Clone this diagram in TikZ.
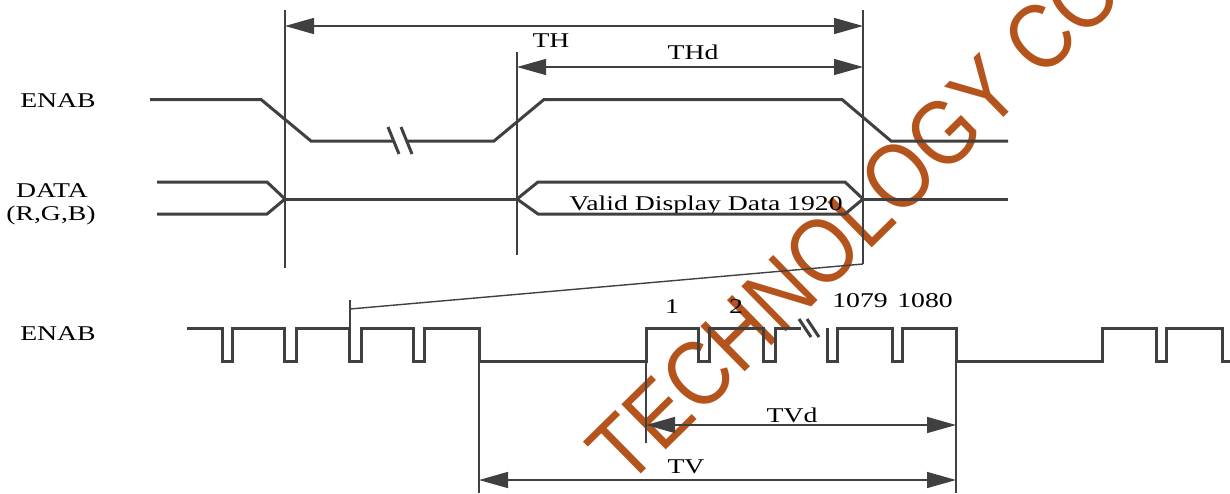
\documentclass[tikz,border=0pt]{standalone}
\usepackage{fontspec}
\usepackage{graphicx}
\setmainfont{Liberation Serif}
\newfontfamily\wmfont{Liberation Sans}
\usetikzlibrary{arrows.meta}
\definecolor{ln}{HTML}{404040}
\definecolor{wm}{HTML}{B4541C}
\newcommand{\sx}[1]{\scalebox{1.32}[1]{#1}}
\begin{document}
\begin{tikzpicture}[x=1pt,y=-1pt,
  sig/.style={draw=ln, line width=3pt, line join=miter},
  brk/.style={draw=ln, line width=3pt},
  dimline/.style={draw=ln, line width=1.4pt},
  dimarr/.style={draw=ln, line width=1.4pt,
    {Triangle[length=29pt,width=16pt]}-{Triangle[length=29pt,width=16pt]}},
  lab/.style={font=\fontsize{21}{24}\selectfont, text=black, inner sep=0pt, anchor=base},
  wmark/.style={font=\wmfont\fontsize{92}{96}\selectfont, text=wm, inner sep=0pt,
    anchor=base west, rotate=44.5}
]
\useasboundingbox (0,0) rectangle (1230,493);

% ---------- watermark ----------
\node[wmark] (wm) at (626,489) {\scalebox{0.87}[1]{TECHNOLOGY CO}};

% ---------- named coordinates ----------
\coordinate (v1t) at (285,10);   \coordinate (v1b) at (285,268);
\coordinate (v2t) at (863,10);   \coordinate (v2b) at (863,264);
\coordinate (v3t) at (517,52);   \coordinate (v3b) at (517,255);
\coordinate (v4t) at (350,300);  \coordinate (v4b) at (350,328);
\coordinate (s4)  at (350,309);
\coordinate (v5t) at (479,361);  \coordinate (v5b) at (479,493);
\coordinate (v6t) at (646,361);  \coordinate (v6b) at (646,443);
\coordinate (v7t) at (956,361);  \coordinate (v7b) at (956,493);

% ---------- reference lines ----------
\draw[dimline] (v1t) -- (v1b);
\draw[dimline] (v2t) -- (v2b);
\draw[dimline] (v3t) -- (v3b);
\draw[dimline] (v4t) -- (v4b);
\draw[dimline] (s4) -- (v2b);
\draw[dimline] (v5t) -- (v5b);
\draw[dimline] (v6t) -- (v6b);
\draw[dimline] (v7t) -- (v7b);

% ---------- dimension arrows ----------
\coordinate (th1) at (285,26);  \coordinate (th2) at (863,26);
\coordinate (thd1) at (517,67); \coordinate (thd2) at (863,67);
\coordinate (tvd1) at (646,425); \coordinate (tvd2) at (956,425);
\coordinate (tv1) at (479,480);  \coordinate (tv2) at (956,480);
\draw[dimarr] (th1) -- (th2);
\draw[dimarr] (thd1) -- (thd2);
\draw[dimarr] (tvd1) -- (tvd2);
\draw[dimarr] (tv1) -- (tv2);

% ---------- labels ----------
\node[lab] (lth)  at (551,47)  {\sx{TH}};
\node[lab] (lthd) at (693,59)  {\sx{THd}};
\node[lab] (ltvd) at (792,422) {\sx{TVd}};
\node[lab] (ltv)  at (686,473) {\sx{TV}};
\node[lab] (lena1) at (58,107) {\sx{ENAB}};
\node[lab] (ldata) at (52,197) {\sx{DATA}};
\node[lab] (lrgb)  at (51,220) {\sx{(R,G,B)}};
\node[lab] (lena2) at (58,340) {\sx{ENAB}};
\node[lab] (lvalid) at (706,210) {\sx{Valid Display Data 1920}};
\node[lab] (n1)    at (672,313) {\sx{1}};
\node[lab] (n2)    at (736,313) {\sx{2}};
\node[lab] (n1079) at (860,307) {\sx{1079}};
\node[lab] (n1080) at (925,307) {\sx{1080}};

% ---------- top ENAB ----------
\draw[sig] (150,99.5) -- (261,99.5) -- (311,141) -- (393,141);
\draw[brk] (388,127) -- (399,154);
\draw[brk] (401,127) -- (412,154);
\draw[sig] (408,141) -- (494,141) -- (544,99.5) -- (842,99.5) -- (891,141) -- (1008,141);

% ---------- DATA ----------
\draw[sig] (157,182) -- (267,182) -- (285,199) -- (267,214) -- (157,214);
\draw[sig] (285,199) -- (517,199);
\draw[sig] (863,199) -- (845,182) -- (538,182) -- (517,199) -- (538,214) -- (845,214) -- cycle;
\draw[sig] (863,199) -- (1008,199);

% ---------- bottom ENAB ----------
\def\H{328}\def\L{361}
\draw[sig] (187,\H) -- (222,\H) -- (222,\L) -- (232,\L) -- (232,\H) -- (284,\H) -- (284,\L)
  -- (296,\L) -- (296,\H) -- (349,\H) -- (349,\L) -- (361,\L) -- (361,\H) -- (413,\H)
  -- (413,\L) -- (424,\L) -- (424,\H) -- (479,\H) -- (479,\L) -- (646,\L) -- (646,\H)
  -- (698,\H) -- (698,\L) -- (709,\L) -- (709,\H) -- (763,\H) -- (763,\L) -- (775,\L)
  -- (775,\H) -- (801,\H);
\draw[brk] (799,319) -- (811,337);
\draw[brk] (807,319) -- (819,337);
\draw[sig] (827,\H) -- (827,\L) -- (837,\L) -- (837,\H) -- (892,\H) -- (892,\L) -- (902,\L)
  -- (902,\H) -- (956,\H) -- (956,\L) -- (1102,\L) -- (1102,\H) -- (1156,\H) -- (1156,\L)
  -- (1166,\L) -- (1166,\H) -- (1222,\H) -- (1222,\L) -- (1234,\L);
\end{tikzpicture}
\end{document}
